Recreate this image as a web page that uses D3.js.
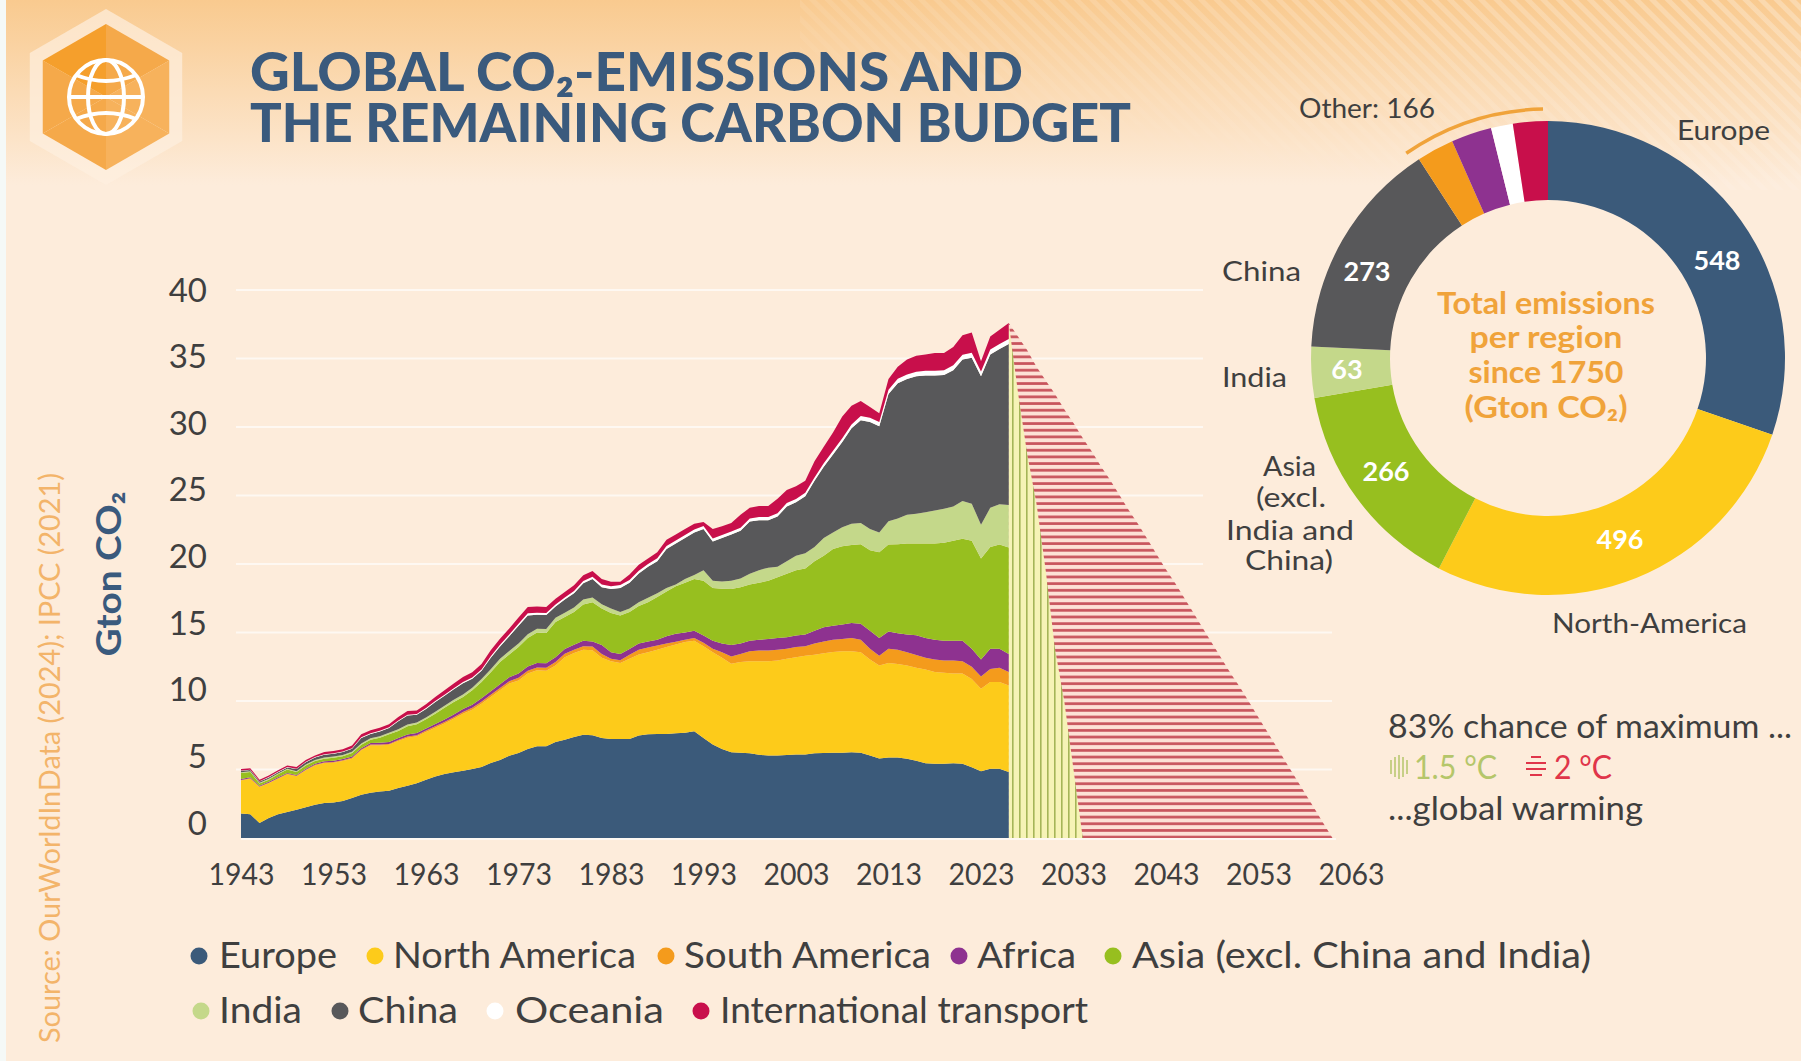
<!DOCTYPE html>
<html>
<head>
<meta charset="utf-8">
<title>Global CO2-emissions and the remaining carbon budget</title>
<script src="https://cdn.jsdelivr.net/npm/d3@7"></script>
<style>
  html, body { margin: 0; padding: 0; background: #fdecdb; }
  svg { display: block; font-family: Lato, sans-serif; }
</style>
</head>
<body>
<svg id="chart" width="1801" height="1061"></svg>
<script>
// upper edge of each band, Gton CO2, stacked, 1943-2026
const topEurope = [1.78,1.73,1.1,1.46,1.73,1.9,2.07,2.24,2.43,2.55,2.6,2.7,2.92,3.16,3.3,3.4,3.45,3.65,3.82,4.0,4.25,4.48,4.67,4.8,4.9,5.04,5.18,5.47,5.7,6.0,6.2,6.5,6.7,6.7,7.0,7.18,7.37,7.54,7.5,
  7.3,7.22,7.22,7.22,7.48,7.58,7.6,7.6,7.64,7.69,7.79,7.3,6.83,6.5,6.26,6.23,6.18,6.07,6.02,6.02,6.05,6.1,6.1,6.18,6.2,6.23,6.23,6.26,6.23,6.02,5.81,5.87,5.87,5.79,5.63,5.45,5.42,5.42,5.45,5.42,5.16,4.87,5.06,5.06,4.82];
const topNorthAmerica = [4.2,4.33,3.72,4.0,4.33,4.65,4.5,4.94,5.3,5.47,5.5,5.62,5.79,6.4,6.76,6.76,6.8,7.08,7.32,7.42,7.74,8.05,8.35,8.7,9.07,9.37,9.8,10.3,10.78,11.27,11.5,12.0,12.24,12.2,12.6,13.2,13.5,13.75,13.7,
  13.16,12.9,12.77,13.09,13.4,13.56,13.74,13.95,14.13,14.3,14.4,14.0,13.56,13.16,12.72,12.85,12.9,12.9,12.9,12.96,13.09,13.2,13.3,13.37,13.48,13.58,13.63,13.63,13.56,13.03,12.6,12.77,12.7,12.6,12.43,12.3,12.12,12.07,12.0,12.0,11.6,10.9,11.39,11.39,11.13];
const topSouthAmerica = [4.24,4.37,3.76,4.04,4.37,4.69,4.54,4.98,5.35,5.52,5.55,5.67,5.85,6.46,6.83,6.83,6.87,7.16,7.4,7.5,7.84,8.15,8.46,8.82,9.2,9.5,9.95,10.46,10.95,11.45,11.7,12.2,12.45,12.42,12.84,13.45,13.75,14.0,13.97,
  13.43,13.09,12.98,13.37,13.74,13.9,14.05,14.2,14.33,14.47,14.6,14.26,13.82,13.56,13.24,13.43,13.63,13.69,13.69,13.74,13.82,13.95,14.0,14.2,14.34,14.47,14.52,14.6,14.47,13.82,13.3,13.82,13.74,13.56,13.35,13.16,13.03,12.96,12.96,12.9,12.5,11.78,12.33,12.43,12.12];
const topAfrica = [4.3,4.43,3.82,4.1,4.43,4.75,4.6,5.05,5.42,5.6,5.63,5.76,5.95,6.56,6.93,6.95,7.0,7.3,7.55,7.66,8.0,8.33,8.65,9.02,9.42,9.73,10.2,10.72,11.22,11.74,12.0,12.52,12.78,12.75,13.2,13.8,14.1,14.4,14.35,
  14.08,13.56,13.43,13.8,14.2,14.34,14.47,14.73,14.9,15.0,15.12,14.78,14.4,14.2,14.08,14.2,14.39,14.47,14.52,14.6,14.65,14.78,14.86,15.12,15.38,15.5,15.59,15.7,15.64,15.12,14.6,15.07,14.94,14.86,14.8,14.6,14.47,14.39,14.39,14.39,13.82,13.03,13.82,13.82,13.43];
const topAsia = [4.74,4.82,3.97,4.26,4.65,5.0,4.82,5.3,5.62,5.79,5.86,5.96,6.2,6.8,7.18,7.32,7.57,7.81,8.15,8.3,8.66,9.07,9.5,9.93,10.3,10.78,11.39,12.1,12.85,13.4,13.94,14.6,15.0,14.96,15.77,16.13,16.5,17.05,17.2,
  16.76,16.42,16.24,16.5,16.94,17.2,17.6,17.99,18.38,18.64,18.9,18.77,18.25,18.2,18.17,18.3,18.5,18.64,18.77,19.03,19.29,19.55,19.68,20.2,20.6,21.1,21.3,21.38,21.45,21.0,20.86,21.43,21.45,21.5,21.5,21.5,21.5,21.56,21.7,21.85,21.7,20.4,21.25,21.43,21.2];
const topIndia = [4.8,4.88,4.03,4.32,4.71,5.06,4.88,5.37,5.7,5.87,5.94,6.05,6.3,6.9,7.28,7.43,7.68,7.93,8.28,8.43,8.8,9.22,9.66,10.1,10.48,10.97,11.6,12.32,13.08,13.65,14.2,14.87,15.28,15.25,16.07,16.45,16.83,17.4,17.55,
  17.07,16.76,16.5,16.76,17.2,17.54,17.86,18.25,18.5,18.9,19.2,19.55,18.77,18.72,18.77,18.95,19.29,19.55,19.73,19.8,20.2,20.6,20.78,21.25,21.9,22.3,22.68,22.94,23.0,22.55,22.3,23.12,23.33,23.6,23.67,23.77,23.9,24.04,24.2,24.6,24.4,22.86,24.1,24.37,24.3];
const topChina = [4.9,4.96,4.12,4.42,4.8,5.15,5.03,5.53,5.87,6.08,6.15,6.27,6.52,7.3,7.6,7.78,8.03,8.53,8.95,9.0,9.42,9.93,10.38,10.85,11.3,11.63,12.2,13.15,13.98,14.72,15.5,16.25,16.3,16.27,16.9,17.4,17.87,18.6,18.9,
  18.3,18.17,18.25,18.64,19.3,19.8,20.2,21.1,21.5,21.9,22.3,22.55,21.64,21.9,22.16,22.42,23.1,23.2,23.2,23.46,24.2,24.5,24.95,26.07,27.1,28.0,28.9,29.9,30.5,30.37,30.06,32.4,33.2,33.5,33.7,33.76,33.76,33.8,34.15,34.93,35.06,33.7,35.3,35.7,36.05];
const topOceania = [4.93,4.99,4.15,4.45,4.83,5.18,5.06,5.56,5.91,6.12,6.19,6.31,6.56,7.35,7.65,7.83,8.08,8.58,9.0,9.05,9.48,10.0,10.46,10.93,11.39,11.72,12.3,13.26,14.1,14.85,15.63,16.4,16.45,16.42,17.05,17.56,18.03,18.76,19.07,
  18.5,18.38,18.46,18.84,19.5,20.0,20.42,21.32,21.72,22.12,22.52,22.77,21.86,22.12,22.38,22.65,23.33,23.43,23.43,23.7,24.45,24.75,25.2,26.32,27.35,28.27,29.18,30.18,30.8,30.67,30.36,32.72,33.52,33.83,34.03,34.1,34.1,34.15,34.5,35.28,35.42,34.05,35.66,36.06,36.42];
const topTransport = [5.04,5.1,4.26,4.57,4.94,5.3,5.18,5.7,6.03,6.28,6.35,6.47,6.76,7.57,7.86,8.05,8.3,8.83,9.27,9.3,9.76,10.3,10.78,11.27,11.75,12.1,12.7,13.7,14.55,15.3,16.1,16.86,16.9,16.86,17.47,17.96,18.44,19.17,19.49,
  18.9,18.7,18.7,19.24,19.94,20.4,20.85,21.77,22.16,22.55,22.94,23.07,22.55,22.76,23.0,23.6,24.1,24.24,24.24,24.76,25.4,25.68,26.07,27.5,28.55,29.6,30.76,31.55,31.9,31.46,31.0,33.5,34.4,34.93,35.2,35.3,35.4,35.4,35.84,36.7,36.9,34.8,36.6,37.1,37.6];

const bandTops = [topEurope, topNorthAmerica, topSouthAmerica, topAfrica, topAsia, topIndia, topChina, topOceania, topTransport];
const bandNames = ['Europe', 'North America', 'South America', 'Africa', 'Asia (excl. China and India)', 'India', 'China', 'Oceania', 'International transport'];
const bandColors = ['#3b5a7a', '#fdcb1a', '#f49b1c', '#8e3290', '#97bf1f', '#c4d88a', '#58585a', '#ffffff', '#c80f4b'];

// remaining budget pathways, 2026 onwards
const budget15 = [37.6,32.5,28,24.4,19.5,13.8,10,5,0];
const budget2 = [37.6,36.6,35.6,34.4,33.4,32.4,31.3,30.3,29.2,28.2,27.1,26.1,25.0,23.9,22.9,21.8,20.7,19.6,18.6,17.5,16.4,15.3,14.2,13.1,12.0,11.0,9.9,8.8,7.7,6.6,5.5,4.4,3.3,2.2,1.1,0];

const xTicks = [1943,1953,1963,1973,1983,1993,2003,2013,2023,2033,2043,2053,2063];
const yTicks = [0,5,10,15,20,25,30,35,40];

// donut, clockwise from 12 o'clock
const donutNames = ['Europe','North-America','Asia','India','China','South America','Africa','Oceania','International transport'];
const donutValues = [548,496,266,63,273,46,50,27,43];
const donutColors = ['#3b5a7a','#fdcb1a','#97bf1f','#c4d88a','#58585a','#f49b1c','#8e3290','#ffffff','#c80f4b'];

const textColor = '#3f3f3f';
const blue = '#3a5a7d';
const orange = '#f0a33a';

const svg = d3.select('#chart');
const defs = svg.append('defs');

// background
const bgGrad = defs.append('linearGradient').attr('id', 'bg-grad').attr('x1', 0).attr('x2', 0).attr('y1', 0).attr('y2', 1);
bgGrad.append('stop').attr('offset', '0%').attr('stop-color', '#f9ca8f');
bgGrad.append('stop').attr('offset', '100%').attr('stop-color', '#fdecdb');

const hatchFade = defs.append('linearGradient').attr('id', 'hatch-fade').attr('x1', 0).attr('x2', 1).attr('y1', 1).attr('y2', 0);
hatchFade.append('stop').attr('offset', '25%').attr('stop-color', '#fff').attr('stop-opacity', 0);
hatchFade.append('stop').attr('offset', '100%').attr('stop-color', '#fff').attr('stop-opacity', 0.28);
defs.append('pattern').attr('id', 'hatch').attr('width', 11).attr('height', 11)
  .attr('patternUnits', 'userSpaceOnUse').attr('patternTransform', 'rotate(-45)')
  .append('rect').attr('width', 5).attr('height', 11).attr('fill', '#fff');
defs.append('mask').attr('id', 'hatch-mask').attr('maskUnits', 'userSpaceOnUse')
  .attr('x', 800).attr('y', 0).attr('width', 1001).attr('height', 190)
  .append('rect').attr('x', 800).attr('y', 0).attr('width', 1001).attr('height', 190).attr('fill', 'url(#hatch-fade)');

svg.append('rect').attr('width', 1801).attr('height', 1061).attr('fill', '#fdecdb');
svg.append('rect').attr('width', 1801).attr('height', 185).attr('fill', 'url(#bg-grad)');
svg.append('rect').attr('x', 800).attr('width', 1001).attr('height', 190).attr('fill', 'url(#hatch)').attr('mask', 'url(#hatch-mask)');
svg.append('rect').attr('width', 6).attr('height', 1061).attr('fill', '#f5f9f7');

// stripe fills for the two pathways
const p15 = defs.append('pattern').attr('id', 'stripe-15').attr('width', 7).attr('height', 10).attr('patternUnits', 'userSpaceOnUse');
p15.append('rect').attr('width', 7).attr('height', 10).attr('fill', '#f6f3b6');
p15.append('rect').attr('x', 4).attr('width', 1.6).attr('height', 10).attr('fill', '#a5b558');
const p2 = defs.append('pattern').attr('id', 'stripe-2').attr('width', 10).attr('height', 6.67).attr('patternUnits', 'userSpaceOnUse');
p2.append('rect').attr('width', 10).attr('height', 6.67).attr('fill', '#fde1d6');
p2.append('rect').attr('y', 2).attr('width', 10).attr('height', 2.7).attr('fill', '#c8545c');

// logo
const logo = svg.append('g').attr('transform', 'translate(106,97)');
const hexPoints = r => d3.range(6).map(i => {
  const a = Math.PI / 3 * i;
  return [r * Math.sin(a), -r * Math.cos(a)];
});
logo.append('polygon').attr('points', hexPoints(88).join(' ')).attr('fill', '#fdf0e0').attr('opacity', 0.7);
const facets = ['#f5a94a', '#f7b25c', '#f7b25c', '#f5a94a', '#f5a94a', '#f59f2c'];
const hexIn = hexPoints(73);
facets.forEach((c, i) => {
  logo.append('polygon')
    .attr('points', [[0, 0], hexIn[i], hexIn[(i + 1) % 6]].join(' '))
    .attr('fill', c);
});
const globe = logo.append('g').attr('fill', 'none').attr('stroke', '#fff').attr('stroke-width', 4);
globe.append('circle').attr('r', 37);
globe.append('ellipse').attr('rx', 18).attr('ry', 37);
globe.append('line').attr('x1', -37).attr('x2', 37);
globe.append('path').attr('d', 'M-30,-22Q0,-10 30,-22');
globe.append('path').attr('d', 'M-30,22Q0,10 30,22');

// title
svg.append('text').attr('x', 250).attr('y', 91).text('GLOBAL CO₂-EMISSIONS AND')
  .attr('font-size', 54).attr('font-weight', 900).attr('fill', blue)
  .attr('textLength', 773).attr('lengthAdjust', 'spacingAndGlyphs');
svg.append('text').attr('x', 250).attr('y', 142).text('THE REMAINING CARBON BUDGET')
  .attr('font-size', 54).attr('font-weight', 900).attr('fill', blue)
  .attr('textLength', 881).attr('lengthAdjust', 'spacingAndGlyphs');

// scales
const x = d3.scaleLinear().domain([1943, 2063]).range([241, 1351]);
const y = d3.scaleLinear().domain([0, 40]).range([838, 290]);
// the tick numbers sit on a slightly tighter ladder than the gridlines
const yLabel = d3.scaleLinear().domain([0, 40]).range([823.5, 290.5]);

// gridlines
const gridEnd = d => d < 20 ? 1332 : 1203;
svg.append('g').selectAll('line').data(yTicks.filter(d => d > 0)).join('line')
  .attr('x1', 236).attr('x2', gridEnd)
  .attr('y1', d => y(d)).attr('y2', d => y(d))
  .attr('stroke', '#fff').attr('stroke-opacity', 0.65).attr('stroke-width', 2);
svg.append('line').attr('x1', 241).attr('x2', 1336).attr('y1', 839).attr('y2', 839)
  .attr('stroke', '#fff').attr('stroke-opacity', 0.65).attr('stroke-width', 2);

// pathways: 2 degrees behind, 1.5 degrees in front
const pathArea = d3.area().x(d => x(d.year)).y0(y(0)).y1(d => y(d.value));
const toPath = values => values.map((value, i) => ({ year: 2026 + i, value }));
svg.append('path').attr('d', pathArea(toPath(budget2))).attr('fill', 'url(#stripe-2)');
svg.append('path').attr('d', pathArea(toPath(budget15))).attr('fill', 'url(#stripe-15)');

// stacked history
const years = d3.range(1943, 2027);
const band = d3.area()
  .x(d => x(d.year))
  .y0(d => y(d.low))
  .y1(d => y(d.high));
const bands = bandTops.map((tops, k) => years.map((year, i) => ({
  year,
  low: k === 0 ? 0 : bandTops[k - 1][i],
  high: tops[i]
})));
svg.append('g').selectAll('path').data(bands).join('path')
  .attr('d', band)
  .attr('fill', (d, i) => bandColors[i]);

// axes
const axisX = d3.axisBottom(x).tickValues(xTicks).tickFormat(d3.format('d')).tickSize(0).tickPadding(0);
const gx = svg.append('g').attr('transform', 'translate(0,885)').call(axisX);
gx.select('.domain').remove();
gx.selectAll('text').attr('y', 0).attr('dy', 0)
  .attr('font-family', 'Lato, sans-serif').attr('font-size', 31).attr('fill', textColor)
  .attr('textLength', 66).attr('lengthAdjust', 'spacingAndGlyphs');

const axisY = d3.axisLeft(yLabel).tickValues(yTicks).tickSize(0).tickPadding(0);
const gy = svg.append('g').attr('transform', 'translate(207,0)').call(axisY);
gy.select('.domain').remove();
gy.selectAll('text')
  .attr('font-family', 'Lato, sans-serif').attr('font-size', 33).attr('fill', textColor);

svg.append('text').attr('transform', 'translate(121,574) rotate(-90)')
  .attr('text-anchor', 'middle').attr('font-size', 35).attr('font-weight', 700).attr('fill', blue)
  .attr('textLength', 165).attr('lengthAdjust', 'spacingAndGlyphs')
  .text('Gton CO₂');

svg.append('text').attr('transform', 'translate(60,758) rotate(-90)')
  .attr('text-anchor', 'middle').attr('font-size', 28).attr('fill', '#f3b46a')
  .attr('textLength', 570).attr('lengthAdjust', 'spacingAndGlyphs')
  .text('Source: OurWorldInData (2024); IPCC (2021)');

// legend
const legendSlots = [
  { dot: 199, text: 219, row: 0, width: 118 },
  { dot: 375, text: 393, row: 0, width: 243 },
  { dot: 666, text: 684, row: 0, width: 247 },
  { dot: 959, text: 977, row: 0, width: 99 },
  { dot: 1113, text: 1132, row: 0, width: 459 },
  { dot: 201, text: 219, row: 1, width: 83 },
  { dot: 340, text: 358, row: 1, width: 100 },
  { dot: 495, text: 515, row: 1, width: 149 },
  { dot: 701, text: 720, row: 1, width: 368 }
];
const legendRowY = [956, 1011];
const legend = svg.append('g').selectAll('g').data(bandNames).join('g');
legend.append('circle')
  .attr('cx', (d, i) => legendSlots[i].dot)
  .attr('cy', (d, i) => legendRowY[legendSlots[i].row])
  .attr('r', 8.5)
  .attr('fill', (d, i) => bandColors[i]);
legend.append('text')
  .attr('x', (d, i) => legendSlots[i].text)
  .attr('y', (d, i) => legendRowY[legendSlots[i].row] + 12)
  .attr('font-size', 36).attr('fill', textColor)
  .attr('textLength', (d, i) => legendSlots[i].width).attr('lengthAdjust', 'spacingAndGlyphs')
  .text(d => d);

// donut
const donut = svg.append('g').attr('transform', 'translate(1548,358)');
const pie = d3.pie().sort(null).value(d => d);
const arc = d3.arc().innerRadius(158).outerRadius(237);
const slices = pie(donutValues);
donut.selectAll('path').data(slices).join('path')
  .attr('d', arc)
  .attr('fill', (d, i) => donutColors[i]);

const otherStart = slices[5].startAngle - 2 * Math.PI - 0.03;
donut.append('path')
  .attr('d', d3.arc().innerRadius(249).outerRadius(249)({ startAngle: otherStart, endAngle: -0.02 }))
  .attr('fill', 'none').attr('stroke', orange).attr('stroke-width', 3.5).attr('stroke-linecap', 'round');

const valueLabels = [
  { text: '548', x: 1717, y: 261 },
  { text: '496', x: 1620, y: 540 },
  { text: '266', x: 1386, y: 472 },
  { text: '63', x: 1347, y: 370 },
  { text: '273', x: 1367, y: 272 }
];
svg.append('g').selectAll('text').data(valueLabels).join('text')
  .attr('x', d => d.x).attr('y', d => d.y).attr('dy', '0.35em')
  .attr('text-anchor', 'middle').attr('font-size', 27).attr('font-weight', 700).attr('fill', '#fff')
  .text(d => d.text);

const centerLines = [
  { text: 'Total emissions', y: 303, width: 218 },
  { text: 'per region', y: 337, width: 153 },
  { text: 'since 1750', y: 372, width: 155 },
  { text: '(Gton CO₂)', y: 407, width: 163 }
];
svg.append('g').selectAll('text').data(centerLines).join('text')
  .attr('x', 1546).attr('y', d => d.y).attr('dy', '0.35em')
  .attr('text-anchor', 'middle').attr('font-size', 31).attr('font-weight', 700).attr('fill', orange)
  .attr('textLength', d => d.width).attr('lengthAdjust', 'spacingAndGlyphs')
  .text(d => d.text);

const donutLabels = [
  { text: 'Other: 166', x: 1299, y: 109, width: 136 },
  { text: 'Europe', x: 1677, y: 131, width: 93 },
  { text: 'China', x: 1222, y: 272, width: 79 },
  { text: 'India', x: 1222, y: 378, width: 65 },
  { text: 'North-America', x: 1552, y: 624, width: 195 },
  { text: 'Asia', x: 1263, y: 467, width: 53 },
  { text: '(excl.', x: 1256, y: 498, width: 70 },
  { text: 'India and', x: 1226, y: 531, width: 128 },
  { text: 'China)', x: 1245, y: 561, width: 88 }
];
svg.append('g').selectAll('text').data(donutLabels).join('text')
  .attr('x', d => d.x).attr('y', d => d.y).attr('dy', '0.35em')
  .attr('font-size', 27).attr('fill', textColor)
  .attr('textLength', d => d.width).attr('lengthAdjust', 'spacingAndGlyphs')
  .text(d => d.text);

// warming note
const note = svg.append('g').attr('font-size', 33);
note.append('text').attr('x', 1388).attr('y', 738).attr('fill', textColor)
  .attr('textLength', 404).attr('lengthAdjust', 'spacingAndGlyphs').text('83% chance of maximum ...');
note.append('text').attr('x', 1414).attr('y', 779).attr('fill', '#b5c66a')
  .attr('textLength', 83).attr('lengthAdjust', 'spacingAndGlyphs').text('1.5 °C');
note.append('text').attr('x', 1554).attr('y', 779).attr('fill', '#e0354a')
  .attr('textLength', 58).attr('lengthAdjust', 'spacingAndGlyphs').text('2 °C');
note.append('text').attr('x', 1388).attr('y', 820).attr('fill', textColor)
  .attr('textLength', 255).attr('lengthAdjust', 'spacingAndGlyphs').text('...global warming');

const noteMark15 = svg.append('g').attr('stroke', '#b5c66a').attr('stroke-width', 1.5);
[1391, 1395, 1399, 1403, 1407].forEach((px, i) => {
  const h = [7, 10, 12, 10, 7][i];
  noteMark15.append('line').attr('x1', px).attr('x2', px).attr('y1', 767 - h).attr('y2', 767 + h);
});
const noteMark2 = svg.append('g').attr('stroke', '#e0354a').attr('stroke-width', 2);
[757, 763, 769, 775].forEach((py, i) => {
  const w = [5, 10, 10, 6][i];
  noteMark2.append('line').attr('x1', 1536 - w).attr('x2', 1536 + w).attr('y1', py).attr('y2', py);
});
</script>
</body>
</html>
